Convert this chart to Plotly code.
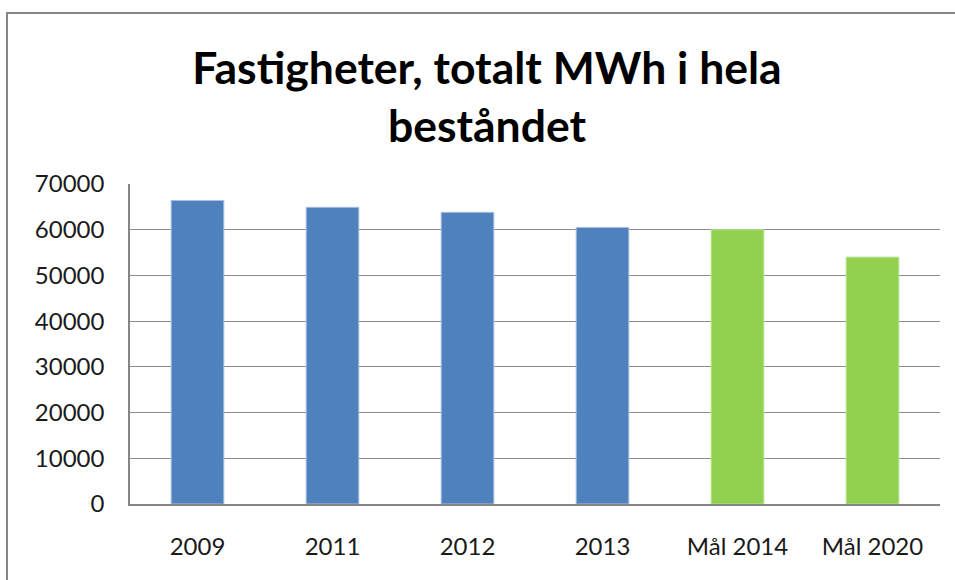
import plotly.graph_objects as go

categories = ["2009", "2011", "2012", "2013", "Mål 2014", "Mål 2020"]
values = [66400, 64900, 63800, 60500, 60000, 54000]
bar_colors = ["#4F81BD", "#4F81BD", "#4F81BD", "#4F81BD", "#92D050", "#92D050"]
line_colors = ["#A7C0DE", "#A7C0DE", "#A7C0DE", "#A7C0DE", "#B5E28A", "#B5E28A"]
y_ticks = [0, 10000, 20000, 30000, 40000, 50000, 60000, 70000]
title_text = "Fastigheter, totalt MWh i hela<br>beståndet"

W, H = 955, 580
L, R, T, B = 130, 15, 184, 76

fig = go.Figure(go.Bar(
    x=categories, y=values,
    marker=dict(color=bar_colors, line=dict(color=line_colors, width=1)),
    width=0.39,
))

pw = W - L - R
ph = H - T - B

def px_x(p):
    return (p - L) / pw

def px_y(p):
    return (H - B - p) / ph

fig.add_shape(type="rect", xref="paper", yref="paper",
              x0=px_x(7), x1=px_x(1000), y0=px_y(640), y1=px_y(13),
              line=dict(color="#878787", width=2), layer="below")

fig.update_layout(
    width=W, height=H,
    margin=dict(l=L, r=R, t=T, b=B),
    paper_bgcolor="white", plot_bgcolor="white",
    showlegend=False,
    title=dict(text=title_text, x=487 / W, xanchor="center",
               y=1 - 84 / H, yanchor="middle",
               font=dict(family="Lato", size=44.5, color="#000000", weight="bold")),
    font=dict(family="Lato", size=24, color="#1a1a1a"),
    xaxis=dict(showline=True, linecolor="#868686", linewidth=1.5,
               ticks="", showgrid=False, ticklabelstandoff=20,
               tickfont=dict(size=24)),
    yaxis=dict(range=[0, 70000], tickvals=y_ticks, tickformat="d",
               showline=True, linecolor="#868686", linewidth=1.5,
               showgrid=True, gridcolor="#8c8c8c", gridwidth=1.2,
               ticks="", ticklabelstandoff=19, zeroline=False,
               tickfont=dict(size=24)),
)

fig.write_html("out.html", config={"displayModeBar": False},
               post_script="document.body.style.margin='0';document.body.style.overflow='hidden';")
